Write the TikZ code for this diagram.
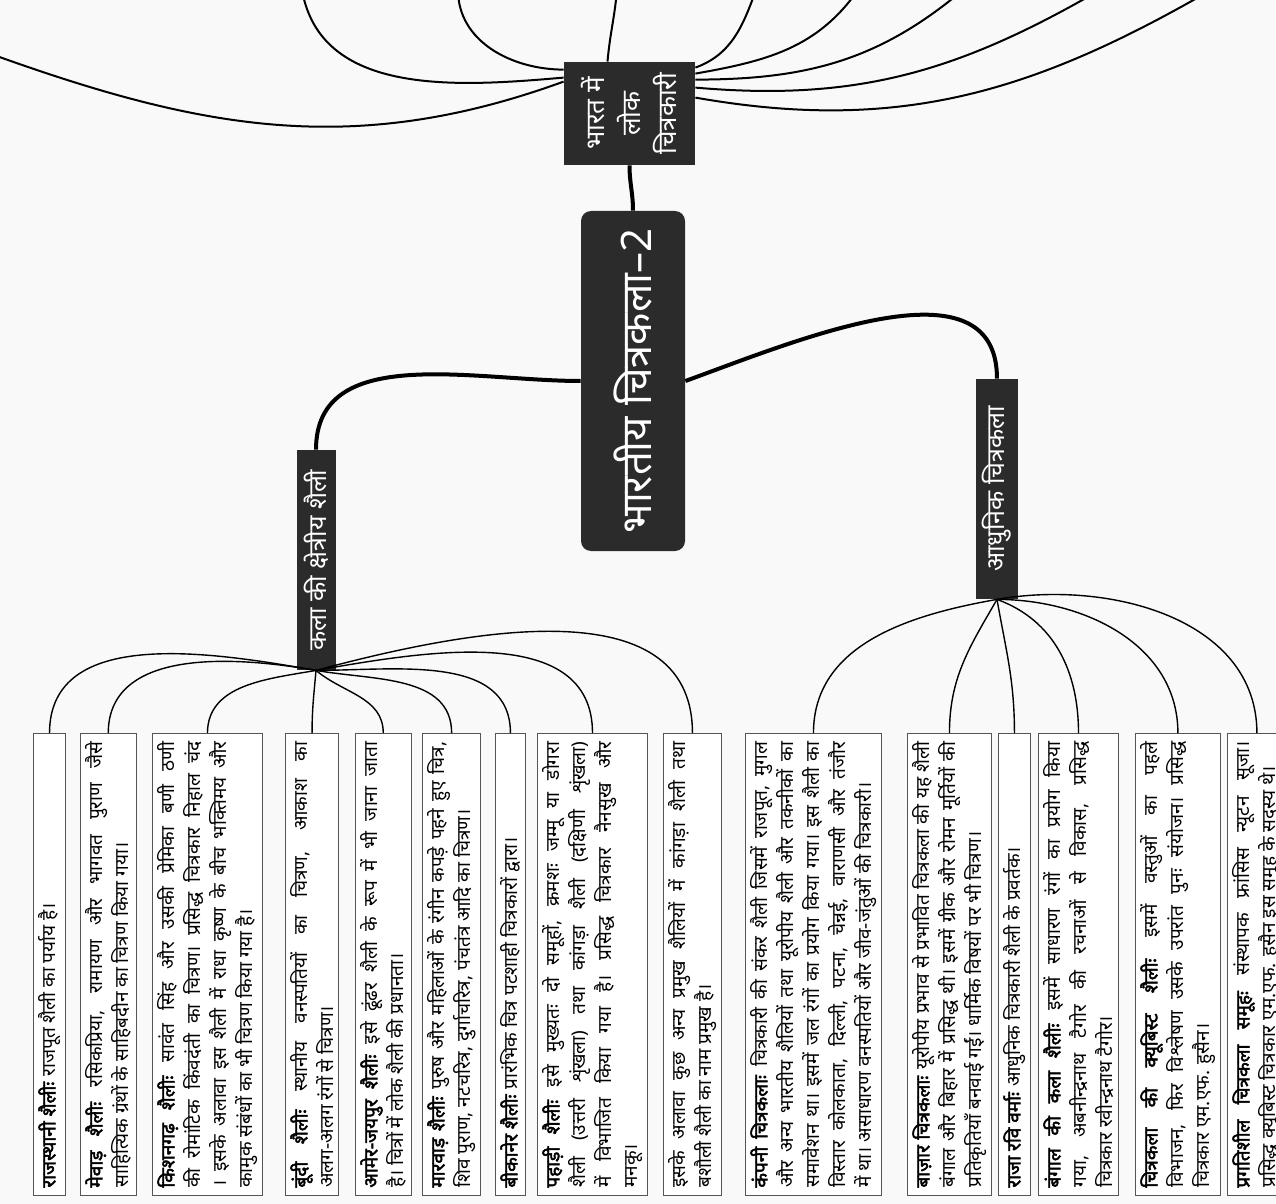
\documentclass[tikz,border=0pt]{standalone}
\usepackage{fontspec}
\setmainfont{Noto Sans}[Script=Devanagari, BoldFont=Noto Sans, BoldFeatures={FakeBold=2.5}]
\usetikzlibrary{positioning}

\definecolor{nodebg}{HTML}{2B2B2B}
\definecolor{pagebg}{HTML}{F9F9F9}
\definecolor{boxline}{HTML}{555555}

\begin{document}
\begin{tikzpicture}[
  x=0.5pt, y=-0.5pt,
  root/.style={fill=nodebg, text=white, rounded corners=5pt, rotate=90,
    minimum width=170pt, minimum height=52pt, font=\fontsize{21}{26}\selectfont},
  topic/.style={fill=nodebg, text=white, rotate=90, inner sep=3pt,
    minimum width=110pt, minimum height=19.5pt, font=\fontsize{12.5}{15}\selectfont},
  note/.style={draw=boxline, fill=white, rotate=90, anchor=north west,
    text width=223pt, align=justify, inner xsep=4pt, inner ysep=2.5pt,
    font=\fontsize{9.5}{13}\selectfont},
  branch/.style={line width=2pt},
  twig/.style={line width=0.7pt},
  vine/.style={line width=1pt},
]

\fill[pagebg] (0,0) rectangle (1276,1204);
\useasboundingbox (0,0) rectangle (1276,1204);
\clip (0,0) rectangle (1276,1204);

% --- central and main topics
\node[root] (root) at (633,381) {भारतीय चित्रकला–2};
\node[topic, align=center, minimum width=51.5pt, minimum height=65.5pt,
  font=\fontsize{13}{18}\selectfont] (lok) at (629.5,113.5) {भारत में\\लोक\\चित्रकारी};
\node[topic] (kshetra) at (316,560) {कला की क्षेत्रीय शैली};
\node[topic] (adhunik) at (997,489) {आधुनिक चित्रकला};

% --- notes: regional styles
\node[note] (rajasthani) at (33,1196) {\textbf{राजस्थानी शैलीः} राजपूत शैली का पर्याय है।};
\node[note] (mewar) at (80,1196) {\textbf{मेवाड़ शैलीः} रसिकप्रिया, रामायण और भागवत पुराण जैसे\linebreak
  साहित्यिक ग्रंथों के साहिबदीन का चित्रण किया गया।};
\node[note] (kishangarh) at (152,1196) {\textbf{किशनगढ़ शैलीः} सावंत सिंह और उसकी प्रेमिका बणी ठणी\linebreak
  की रोमांटिक किंवदंती का चित्रण। प्रसिद्ध चित्रकार निहाल चंद\linebreak
  । इसके अलावा इस शैली में राधा कृष्ण के बीच भक्तिमय और\linebreak
  कामुक संबंधों का भी चित्रण किया गया है।};
\node[note] (bundi) at (285,1196) {\textbf{बूंदी शैलीः} स्थानीय वनस्पतियों का चित्रण, आकाश का\linebreak
  अलग-अलग रंगों से चित्रण।};
\node[note] (amer) at (355,1196) {\textbf{आमेर-जयपुर शैलीः} इसे ढूंढर शैली के रूप में भी जाना जाता\linebreak
  है। चित्रों में लोक शैली की प्रधानता।};
\node[note] (marwar) at (422,1196) {\textbf{मारवाड़ शैलीः} पुरुष और महिलाओं के रंगीन कपड़े पहने हुए चित्र,\linebreak
  शिव पुराण, नटचरित्र, दुर्गाचरित्र, पंचतंत्र आदि का चित्रण।};
\node[note] (bikaner) at (495,1196) {\textbf{बीकानेर शैलीः} प्रारंभिक चित्र पटशाही चित्रकारों द्वारा।};
\node[note] (pahadi) at (537,1196) {\textbf{पहाड़ी शैलीः} इसे मुख्यतः दो समूहों, क्रमशः जम्मू या डोगरा\linebreak
  शैली (उत्तरी शृंखला) तथा कांगड़ा शैली (दक्षिणी शृंखला)\linebreak
  में विभाजित किया गया है। प्रसिद्ध चित्रकार नैनसुख और\linebreak
  मनकू।};
\node[note] (anya) at (663,1196) {इसके अलावा कुछ अन्य प्रमुख शैलियों में कांगड़ा शैली तथा\linebreak
  बशौली शैली का नाम प्रमुख है।};

% --- notes: modern painting
\node[note] (kampani) at (745,1196) {\textbf{कंपनी चित्रकलाः} चित्रकारी की संकर शैली जिसमें राजपूत, मुगल\linebreak
  और अन्य भारतीय शैलियों तथा यूरोपीय शैली और तकनीकों का\linebreak
  समावेशन था। इसमें जल रंगों का प्रयोग किया गया। इस शैली का\linebreak
  विस्तार कोलकाता, दिल्ली, पटना, चेन्नई, वाराणसी और तंजौर\linebreak
  में था। असाधारण वनस्पतियों और जीव-जंतुओं की चित्रकारी।};
\node[note] (bazaar) at (907,1196) {\textbf{बाज़ार चित्रकलाः} यूरोपीय प्रभाव से प्रभावित चित्रकला की यह शैली\linebreak
  बंगाल और बिहार में प्रसिद्ध थी। इसमें ग्रीक और रोमन मूर्तियों की\linebreak
  प्रतिकृतियाँ बनवाई गईं। धार्मिक विषयों पर भी चित्रण।};
\node[note] (ravi) at (998,1196) {\textbf{राजा रवि वर्माः} आधुनिक चित्रकारी शैली के प्रवर्तक।};
\node[note] (bengal) at (1038,1196) {\textbf{बंगाल की कला शैलीः} इसमें साधारण रंगों का प्रयोग किया\linebreak
  गया, अबनीन्द्रनाथ टैगोर की रचनाओं से विकास, प्रसिद्ध\linebreak
  चित्रकार रवीन्द्रनाथ टैगोर।};
\node[note] (cubist) at (1135,1196) {\textbf{चित्रकला की क्यूबिस्ट शैलीः} इसमें वस्तुओं का पहले\linebreak
  विभाजन, फिर विश्लेषण उसके उपरांत पुनः संयोजन। प्रसिद्ध\linebreak
  चित्रकार एम.एफ. हुसैन।};
\node[note] (pragati) at (1227,1196) {\textbf{प्रगतिशील चित्रकला समूहः} संस्थापक फ्रांसिस न्यूटन सूजा।\linebreak
  प्रसिद्ध क्यूबिस्ट चित्रकार एम.एफ. हुसैन इस समूह के सदस्य थे।};

% --- loose ends of the folk painting branch (cut off at the edge)
\coordinate (upa) at (-20,50);
\coordinate (upb) at (302,-10);
\coordinate (upc) at (458,-10);
\coordinate (upd) at (617,-10);
\coordinate (upe) at (756,-10);
\coordinate (upf) at (858,-10);
\coordinate (upg) at (963,-10);
\coordinate (uph) at (1100,-10);
\coordinate (upi) at (1211,-10);

% --- connectors
\draw[branch] (root.east) to[out=90, in=-90] (lok.west);
\draw[branch] (root.north) to[out=180, in=90] (kshetra.east);
\draw[branch] (root.south) to[out=20, in=90] (adhunik.east);

\draw[vine] ([yshift=-10pt]lok.north east) to[out=200, in=-20] (upa);
\draw[vine] ([yshift=-8pt]lok.north east) to[out=185, in=-80] (upb);
\draw[vine] ([yshift=-4pt]lok.north east) to[out=180, in=-90] (upc);
\draw[vine] ([xshift=-11pt]lok.east) to[out=85, in=-95] (upd);
\draw[vine] ([yshift=-3pt]lok.south east) to[out=20, in=-110] (upe);
\draw[vine] ([yshift=-6pt]lok.south east) to[out=10, in=-125] (upf);
\draw[vine] ([yshift=-9pt]lok.south east) to[out=0, in=-140] (upg);
\draw[vine] ([yshift=-13pt]lok.south east) to[out=-5, in=-150] (uph);
\draw[vine] ([yshift=-18pt]lok.south east) to[out=-10, in=-150] (upi);

\foreach \n/\o in {rajasthani/170, mewar/170, kishangarh/-170, bundi/-95, amer/-40,
                   marwar/-10, bikaner/0, pahadi/10, anya/15}
  \draw[twig] (kshetra.west) to[out=\o, in=90] (\n.east);

\foreach \n/\o in {kampani/190, bazaar/-120, ravi/-80, bengal/-20, cubist/0, pragati/10}
  \draw[twig] (adhunik.west) to[out=\o, in=90] (\n.east);

\end{tikzpicture}
\end{document}
